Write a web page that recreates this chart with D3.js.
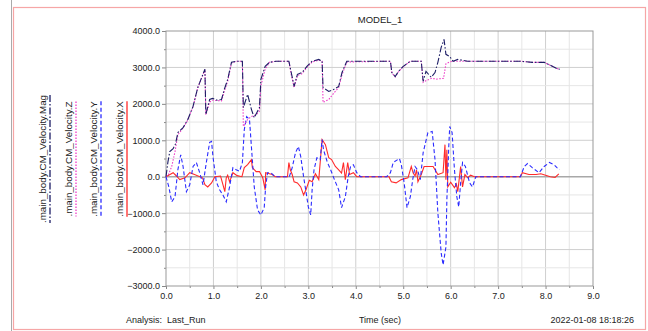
<!DOCTYPE html>
<html>
<head>
<meta charset="utf-8">
<script src="https://cdn.jsdelivr.net/npm/d3@7"></script>
<style>
  body { margin: 0; background: #fff; }
  svg { display: block; font-family: "Liberation Sans", Arial, sans-serif; }
</style>
</head>
<body>
<svg id="chart" width="648" height="331"></svg>
<script>
// [time (sec), velocity] pairs
var magData = [[0,0],[0.04,400],[0.08,690],[0.15,770],[0.2,900],[0.25,1210],[0.36,1350],[0.46,1570],[0.57,1930],[0.67,2450],[0.82,2950],[0.84,1710],[0.92,2120],[0.98,2150],[1.08,2100],[1.17,2120],[1.23,2400],[1.3,2670],[1.38,3140],[1.48,3170],[1.61,3170],[1.63,1900],[1.72,2260],[1.8,1850],[1.86,1620],[1.97,1900],[2.0,2670],[2.09,3030],[2.18,3140],[2.32,3170],[2.59,3170],[2.64,2860],[2.7,2480],[2.77,2810],[2.87,2860],[2.97,3030],[3.08,3170],[3.22,3220],[3.29,3170],[3.31,2450],[3.43,2340],[3.54,2400],[3.64,2480],[3.71,2860],[3.81,3170],[4.73,3170],[4.76,2860],[4.83,2750],[4.9,2890],[5.0,3030],[5.15,3170],[5.38,3170],[5.42,2620],[5.48,2890],[5.59,2730],[5.67,2860],[5.73,3140],[5.8,3550],[5.86,3770],[5.9,3360],[5.98,3300],[6.05,3170],[6.15,3220],[6.36,3170],[7.47,3170],[7.72,3140],[7.97,3140],[8.24,2970],[8.3,2950]];

var zData = [[0,0],[0.05,50],[0.12,280],[0.19,690],[0.25,1150],[0.36,1340],[0.46,1560],[0.57,1920],[0.67,2440],[0.82,2940],[0.84,1700],[0.92,2050],[0.98,2100],[1.17,2080],[1.23,2350],[1.3,2620],[1.38,3120],[1.48,3170],[1.61,3170],[1.63,1380],[1.72,1570],[1.8,1650],[1.9,1700],[1.97,1800],[2.0,2500],[2.09,2950],[2.18,3140],[2.32,3170],[2.59,3170],[2.64,2800],[2.7,2450],[2.77,2780],[2.87,2830],[2.97,3000],[3.08,3150],[3.22,3200],[3.29,3170],[3.31,2040],[3.43,2120],[3.54,2300],[3.64,2450],[3.71,2800],[3.81,3150],[4.73,3170],[4.76,2850],[4.83,2740],[4.9,2880],[5.0,3020],[5.15,3170],[5.38,3170],[5.42,2590],[5.5,2650],[5.6,2700],[5.7,2680],[5.85,2700],[5.9,3100],[5.98,3150],[6.05,3170],[6.36,3170],[7.47,3170],[7.72,3140],[7.97,3140],[8.24,2970],[8.3,2950]];

var yData = [[0,0],[0.06,-280],[0.12,-690],[0.19,-550],[0.25,190],[0.31,600],[0.36,280],[0.43,-410],[0.5,-220],[0.57,280],[0.64,390],[0.71,110],[0.78,-220],[0.85,390],[0.92,940],[0.96,970],[0.99,550],[1.06,-140],[1.13,-360],[1.2,-500],[1.27,-690],[1.34,-280],[1.41,250],[1.48,190],[1.55,150],[1.61,390],[1.65,1290],[1.7,1650],[1.76,1570],[1.8,830],[1.86,-280],[1.93,-910],[2.0,-1050],[2.07,-850],[2.1,-280],[2.14,110],[2.21,110],[2.3,0],[2.6,0],[2.66,250],[2.73,660],[2.79,830],[2.84,550],[2.9,0],[2.95,-410],[3.0,-830],[3.05,-1050],[3.08,-360],[3.12,190],[3.18,520],[3.25,470],[3.29,1020],[3.32,740],[3.4,400],[3.47,190],[3.55,-80],[3.64,-360],[3.7,-850],[3.78,-550],[3.84,0],[3.89,280],[3.95,330],[4.02,110],[4.1,0],[4.65,0],[4.73,110],[4.79,390],[4.92,500],[4.96,330],[5.02,-170],[5.08,-850],[5.15,-550],[5.2,-80],[5.25,280],[5.3,190],[5.36,-80],[5.42,660],[5.52,1210],[5.61,1240],[5.67,470],[5.73,-990],[5.8,-2090],[5.84,-2420],[5.9,-1930],[5.92,-630],[5.96,830],[5.98,1380],[6.03,1210],[6.08,190],[6.13,-550],[6.17,-830],[6.21,-170],[6.25,390],[6.31,280],[6.4,-170],[6.46,-280],[6.53,0],[7.47,0],[7.55,280],[7.62,360],[7.72,250],[7.86,110],[7.97,280],[8.08,390],[8.18,330],[8.24,250],[8.3,200]];

var xData = [[0,0],[0.15,110],[0.22,20],[0.29,-80],[0.4,-30],[0.5,110],[0.6,60],[0.77,-30],[0.82,-220],[0.88,-280],[0.96,-170],[1.03,0],[1.15,20],[1.2,-220],[1.24,-410],[1.27,-30],[1.3,40],[1.34,-140],[1.41,110],[1.5,30],[1.6,0],[1.65,250],[1.72,330],[1.8,470],[1.82,250],[1.9,140],[1.97,140],[2.04,-30],[2.09,-360],[2.1,110],[2.16,90],[2.24,60],[2.3,0],[2.56,0],[2.59,390],[2.62,190],[2.66,60],[2.7,-140],[2.77,-170],[2.84,-280],[2.9,-500],[2.95,-360],[3.02,-100],[3.08,-140],[3.15,80],[3.22,-80],[3.29,1020],[3.36,880],[3.43,520],[3.49,470],[3.57,280],[3.64,190],[3.7,100],[3.74,390],[3.78,-80],[3.83,390],[3.87,60],[3.95,110],[4.02,0],[4.7,0],[4.75,-140],[4.85,-170],[4.96,-80],[5.1,-30],[5.17,280],[5.21,100],[5.25,20],[5.28,190],[5.31,-140],[5.38,60],[5.44,280],[5.52,280],[5.63,280],[5.73,60],[5.84,110],[5.88,880],[5.9,-80],[5.92,740],[5.94,-280],[6.0,-150],[6.08,-300],[6.12,-200],[6.15,-410],[6.21,280],[6.25,-280],[6.3,60],[6.36,-30],[6.42,40],[6.5,0],[7.47,0],[7.51,110],[7.65,60],[7.8,60],[7.9,80],[8.0,40],[8.1,0],[8.2,-20],[8.28,80]];

var xTicks = [0, 1, 2, 3, 4, 5, 6, 7, 8, 9];
var yTicks = [-3000, -2000, -1000, 0, 1000, 2000, 3000, 4000];

var series = [
  { label: ".main_body.CM_Velocity.Mag", data: magData, color: "#1d1d66", dash: "7,2,1.5,2", lx: 46 },
  { label: ".main_body.CM_Velocity.Z",   data: zData,   color: "#ee3cc8", dash: "1.5,1.5",   lx: 72 },
  { label: ".main_body.CM_Velocity.Y",   data: yData,   color: "#2b2bff", dash: "4,2.5",     lx: 97 },
  { label: ".main_body.CM_Velocity.X",   data: xData,   color: "#ff2a2a", dash: null,        lx: 123 }
];

var svg = d3.select("#chart");
var plotL = 166, plotR = 593, plotT = 31, plotB = 286;

var x = d3.scaleLinear().domain([0, 9]).range([plotL, plotR]);
var y = d3.scaleLinear().domain([-3000, 4000]).range([plotB, plotT]);

// outer frame
svg.append("line").attr("x1", 11.5).attr("x2", 11.5).attr("y1", 0).attr("y2", 331)
  .attr("stroke", "#aaa").attr("stroke-width", 1);
svg.append("rect").attr("x", 13.5).attr("y", 7.5).attr("width", 632).attr("height", 322)
  .attr("fill", "none").attr("stroke", "#f6a6a6").attr("stroke-width", 1.2);

// grid
var grid = svg.append("g");
d3.range(0.5, 9, 0.5).forEach(function (t) {
  grid.append("line").attr("x1", x(t)).attr("x2", x(t)).attr("y1", plotT).attr("y2", plotB)
    .attr("stroke", t % 1 === 0 ? "#cfcfcf" : "#e6e6e6").attr("stroke-width", 1);
});
d3.range(-2500, 4000, 500).forEach(function (v) {
  grid.append("line").attr("x1", plotL).attr("x2", plotR).attr("y1", y(v)).attr("y2", y(v))
    .attr("stroke", v === 0 ? "#a8a8a8" : (v % 1000 === 0 ? "#cfcfcf" : "#e6e6e6"))
    .attr("stroke-width", v === 0 ? 1.6 : 1);
});

// axes
var yAxis = d3.axisLeft(y).tickValues(yTicks).tickSize(4).tickPadding(2)
  .tickFormat(function (d) { return d3.format(".1f")(d); });
var gy = svg.append("g").attr("transform", "translate(" + plotL + ",0)").call(yAxis);
gy.select(".domain").remove();
var yMinor = d3.axisLeft(y).tickValues(d3.range(-2500, 4000, 1000)).tickSize(2).tickFormat("");
svg.append("g").attr("transform", "translate(" + plotL + ",0)").call(yMinor).select(".domain").remove();

var xAxis = d3.axisBottom(x).tickValues(xTicks).tickSize(3).tickPadding(4)
  .tickFormat(function (d) { return d3.format(".1f")(d); });
var gx = svg.append("g").attr("transform", "translate(0," + plotB + ")").call(xAxis);
gx.select(".domain").remove();
var xMinor = d3.axisBottom(x).tickValues(d3.range(0.5, 9, 1)).tickSize(2).tickFormat("");
svg.append("g").attr("transform", "translate(0," + plotB + ")").call(xMinor).select(".domain").remove();

svg.selectAll(".tick line").attr("stroke", "#888");
svg.selectAll(".tick text").attr("font-size", 9).attr("fill", "#222")
  .attr("font-family", "Liberation Sans, Arial, sans-serif");

svg.append("rect").attr("x", plotL).attr("y", plotT).attr("width", plotR - plotL).attr("height", plotB - plotT)
  .attr("fill", "none").attr("stroke", "#999").attr("stroke-width", 1);

// curves
var line = d3.line().x(function (d) { return x(d[0]); }).y(function (d) { return y(d[1]); });
var plot = svg.append("g");
series.slice().reverse().forEach(function (s) {
  plot.append("path").attr("d", line(s.data)).attr("fill", "none")
    .attr("stroke", s.color).attr("stroke-width", 1.1)
    .attr("stroke-dasharray", s.dash);
});

// legend, rotated
var legendMid = 159;
series.forEach(function (s) {
  var t = svg.append("text")
    .attr("transform", "translate(" + s.lx + "," + legendMid + ") rotate(-90)")
    .attr("text-anchor", "middle").attr("font-size", 9.8).attr("fill", "#222")
    .text(s.label);
  var len = t.node().getComputedTextLength();
  svg.append("line")
    .attr("x1", s.lx + 4).attr("x2", s.lx + 4)
    .attr("y1", legendMid - len / 2).attr("y2", legendMid + len / 2)
    .attr("stroke", s.color).attr("stroke-width", 1.3)
    .attr("stroke-dasharray", s.dash);
});

// titles
svg.append("text").attr("x", 380).attr("y", 23).attr("text-anchor", "middle")
  .attr("font-size", 9.5).attr("fill", "#222").text("MODEL_1");
svg.append("text").attr("x", 126).attr("y", 323).attr("font-size", 9).attr("fill", "#222")
  .attr("xml:space", "preserve").text("Analysis:  Last_Run");
svg.append("text").attr("x", 380).attr("y", 323).attr("text-anchor", "middle")
  .attr("font-size", 9).attr("fill", "#222").text("Time (sec)");
svg.append("text").attr("x", 634).attr("y", 323).attr("text-anchor", "end")
  .attr("font-size", 9).attr("fill", "#222").text("2022-01-08 18:18:26");
</script>
</body>
</html>
